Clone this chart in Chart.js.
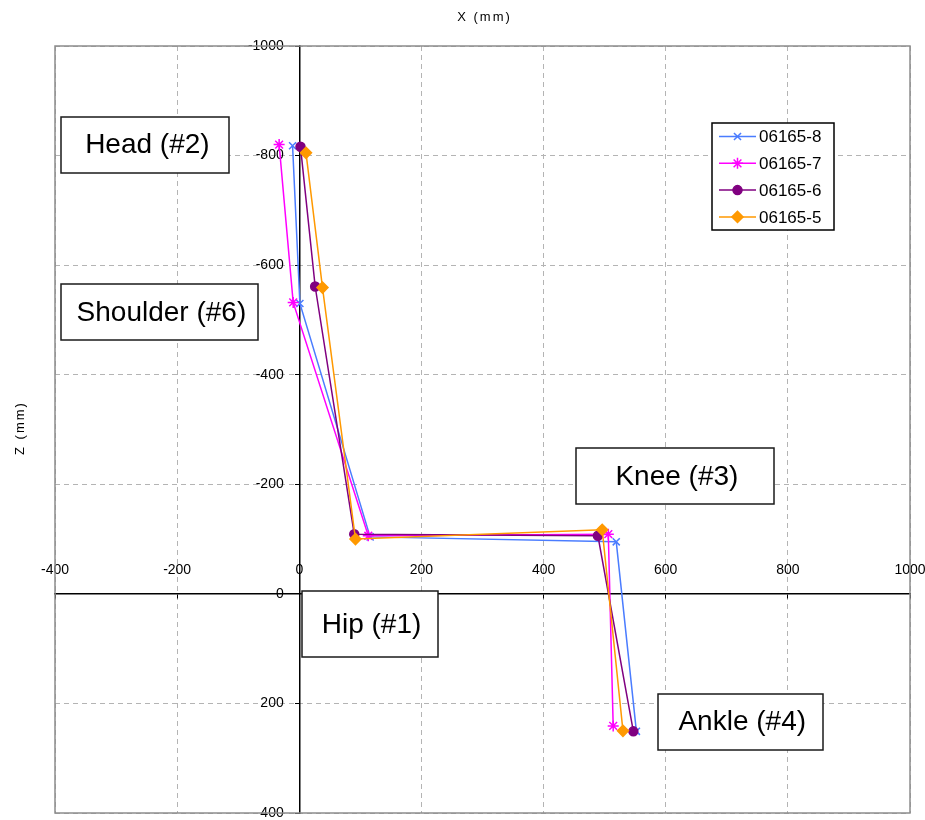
<!DOCTYPE html>
<html>
  <head>
    <meta charset="utf-8">
    <title>Joint positions X-Z</title>
    <script src="https://cdn.jsdelivr.net/npm/chart.js@4.4.1/dist/chart.umd.min.js"></script>
    <style>
      html, body { margin: 0; padding: 0; background: #fff; }
    </style>
  </head>
  <body>
    <canvas id="myChart" width="925" height="820"></canvas>
    <script>
      // joints, in the order the lines are drawn
      var joints = ["Head (#2)", "Shoulder (#6)", "Hip (#1)", "Knee (#3)", "Ankle (#4)"];
      var seriesNames = ["06165-8", "06165-7", "06165-6", "06165-5"];

      // X (mm) and Z (mm) per joint
      var x8 = [-11, 1, 116, 519, 552];
      var z8 = [-818, -530, -104, -95, 251];
      var x7 = [-33, -10, 113, 506, 514];
      var z7 = [-820, -532, -106, -109, 241];
      var x6 = [2, 26, 90, 489, 547];
      var z6 = [-816, -561, -109, -106, 251];
      var x5 = [11, 38, 92, 496, 530];
      var z5 = [-805, -559, -100, -117, 250];

      var xTicks = [-400, -200, 0, 200, 400, 600, 800, 1000];
      var zTicks = [-1000, -800, -600, -400, -200, 0, 200, 400];

      // where the joint name boxes sit (data units, centre) and their size in px
      var boxes = [
        { text: joints[0], x: -252, z: -820, w: 168, h: 56 },
        { text: joints[1], x: -229, z: -514, w: 197, h: 56 },
        { text: joints[2], x: 115, z: 55, w: 136, h: 66 },
        { text: joints[3], x: 615, z: -215, w: 198, h: 56 },
        { text: joints[4], x: 722, z: 233, w: 165, h: 56 }
      ];

      function pts(xs, zs) {
        return xs.map(function (v, i) { return { x: v, y: zs[i] }; });
      }

      function series(name, xs, zs, color, style, radius, order) {
        return {
          label: name,
          data: pts(xs, zs),
          showLine: true,
          borderColor: color,
          backgroundColor: color,
          borderWidth: 1.5,
          pointStyle: style,
          pointRadius: radius,
          pointBorderWidth: 1.5,
          order: order
        };
      }

      var fontFamily = "'Liberation Sans', Arial, sans-serif";

      // frame, joint boxes, legend and axis titles
      var decorations = {
        id: "decorations",
        beforeDatasetsDraw: function (chart) {
          var ctx = chart.ctx, a = chart.chartArea;
          ctx.save();
          ctx.strokeStyle = "#8c8c8c";
          ctx.lineWidth = 1.5;
          ctx.strokeRect(a.left, a.top, a.right - a.left, a.bottom - a.top);
          ctx.restore();
        },
        afterDraw: function (chart) {
          var ctx = chart.ctx, a = chart.chartArea;
          var xs = chart.scales.x, ys = chart.scales.y;
          ctx.save();

          // joint name boxes
          ctx.font = "28px " + fontFamily;
          ctx.textAlign = "center";
          ctx.textBaseline = "middle";
          boxes.forEach(function (b) {
            var cx = xs.getPixelForValue(b.x), cy = ys.getPixelForValue(b.z);
            var l = Math.round(cx - b.w / 2), t = Math.round(cy - b.h / 2);
            ctx.fillStyle = "#fff";
            ctx.fillRect(l, t, b.w, b.h);
            ctx.strokeStyle = "#1a1a1a";
            ctx.lineWidth = 1.5;
            ctx.strokeRect(l, t, b.w, b.h);
            ctx.fillStyle = "#000";
            ctx.fillText(b.text, cx + 2, cy + 1);
          });

          // legend
          var lx = 712, ly = 123, lw = 122, lh = 107;
          ctx.fillStyle = "#fff";
          ctx.fillRect(lx, ly, lw, lh);
          ctx.strokeStyle = "#000";
          ctx.lineWidth = 1.5;
          ctx.strokeRect(lx, ly, lw, lh);
          ctx.font = "17px " + fontFamily;
          ctx.textAlign = "left";
          chart.data.datasets.forEach(function (ds, i) {
            var y = ly + 13.5 + i * 26.8;
            ctx.strokeStyle = ds.borderColor;
            ctx.fillStyle = ds.backgroundColor;
            ctx.lineWidth = 1.5;
            ctx.beginPath();
            ctx.moveTo(lx + 7, y);
            ctx.lineTo(lx + 44, y);
            ctx.stroke();
            Chart.helpers.drawPoint(ctx, {
              pointStyle: ds.pointStyle,
              radius: ds.pointRadius,
              borderWidth: ds.pointBorderWidth,
              rotation: 0
            }, lx + 25.5, y);
            ctx.fillStyle = "#000";
            ctx.fillText(ds.label, lx + 47, y + 1);
          });

          // axis titles
          ctx.fillStyle = "#000";
          ctx.font = "13px " + fontFamily;
          if ("letterSpacing" in ctx) ctx.letterSpacing = "2px";
          ctx.textAlign = "center";
          ctx.fillText("X (mm)", (a.left + a.right) / 2 + 2, 17);
          ctx.translate(20, 428);
          ctx.rotate(-Math.PI / 2);
          ctx.fillText("Z (mm)", 0, 0);
          ctx.restore();
        }
      };

      var ctx = document.getElementById("myChart").getContext("2d");

      var chart = new Chart(ctx, {
        type: "scatter",
        data: {
          datasets: [
            series(seriesNames[0], x8, z8, "#4a7cff", "crossRot", 5, 3),
            series(seriesNames[1], x7, z7, "#ff00ff", "star", 5.5, 2),
            series(seriesNames[2], x6, z6, "#800080", "circle", 4.5, 1),
            series(seriesNames[3], x5, z5, "#ff9900", "rectRot", 5.5, 0)
          ]
        },
        options: {
          responsive: false,
          animation: false,
          events: [],
          layout: { padding: { left: 55, top: 46, right: 15, bottom: 3 } },
          plugins: {
            legend: { display: false },
            tooltip: { enabled: false },
            title: { display: false }
          },
          scales: {
            x: {
              type: "linear",
              min: -400,
              max: 1000,
              position: { y: 0 },
              afterBuildTicks: function (s) {
                s.ticks = xTicks.map(function (v) { return { value: v }; });
              },
              grid: { color: "#b4b4b4", lineWidth: 1, tickLength: 4, tickColor: "#000", tickWidth: 1 },
              border: { display: true, color: "#000", width: 1.5, dash: [5, 4] },
              ticks: {
                color: "#000",
                font: { family: fontFamily, size: 14, lineHeight: 1 },
                padding: -35,
                maxRotation: 0,
                autoSkip: false,
                callback: function (v) { return String(v); }
              }
            },
            y: {
              type: "linear",
              reverse: true,
              min: -1000,
              max: 400,
              position: { x: 0 },
              afterBuildTicks: function (s) {
                s.ticks = zTicks.map(function (v) { return { value: v }; });
              },
              grid: { color: "#b4b4b4", lineWidth: 1, tickLength: 4, tickColor: "#000", tickWidth: 1 },
              border: { display: true, color: "#000", width: 1.5, dash: [5, 4] },
              ticks: {
                color: "#000",
                font: { family: fontFamily, size: 14, lineHeight: 0.35 },
                autoSkip: false,
                callback: function (v) { return String(v) + "    "; }
              }
            }
          }
        },
        plugins: [decorations]
      });
    </script>
  </body>
</html>
